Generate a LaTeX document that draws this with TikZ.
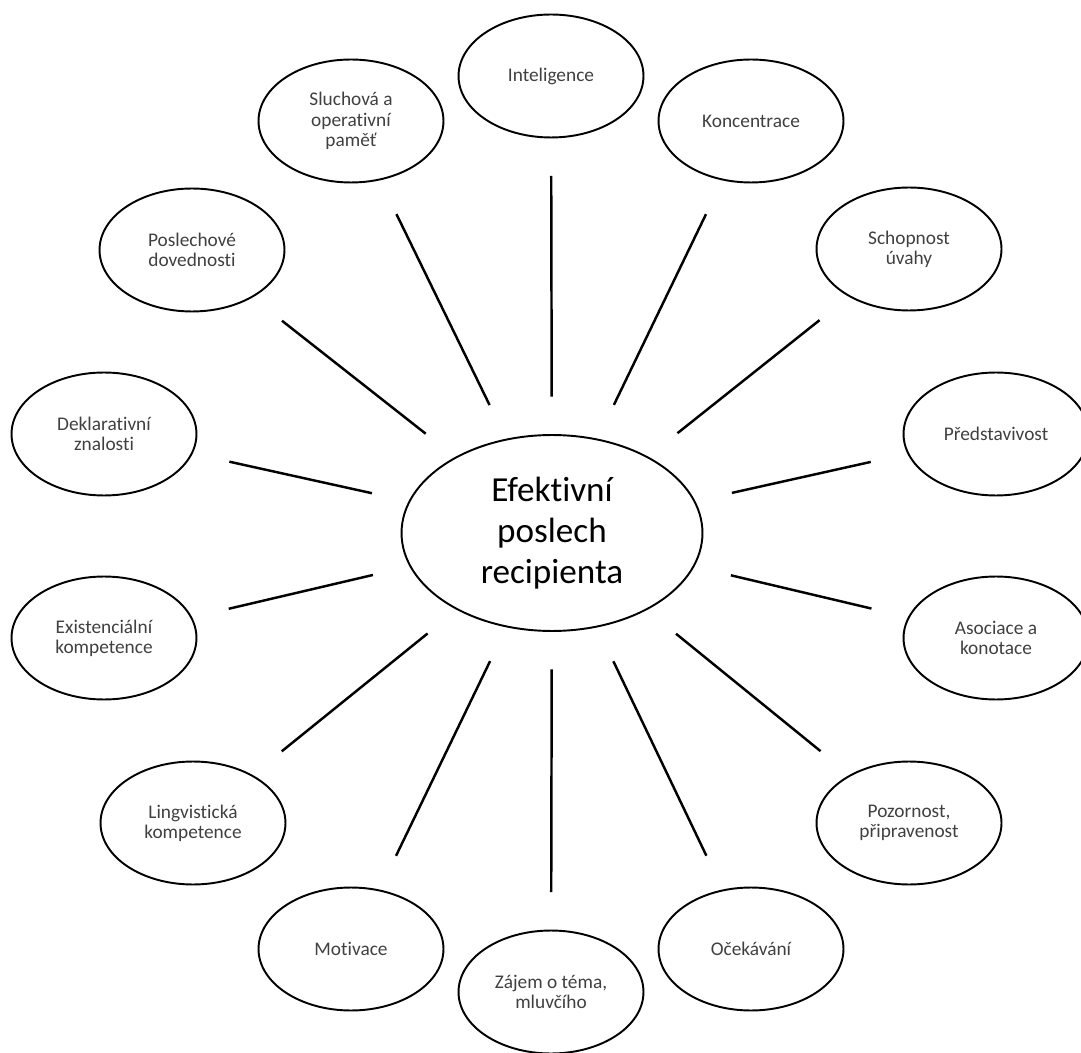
\documentclass[tikz,border=0pt]{standalone}
\usepackage{fontspec}
\setmainfont{Carlito}[Ligatures=NoCommon,Contextuals=NoAlternate]
\usepackage{tikz}
\usetikzlibrary{shapes.geometric}

\begin{document}
\begin{tikzpicture}[x=0.02cm,y=-0.02cm,
  factor/.style={ellipse,draw,line width=1.1pt,minimum width=3.7cm,minimum height=2.46cm,inner sep=1pt,align=center,text=black!75,font=\fontsize{11}{11.5}\selectfont},
  spoke/.style={line width=1.4pt,shorten <=0.75cm,shorten >=0.75cm}]
\useasboundingbox (0,0) rectangle (1081,1053);
\node[ellipse,draw,line width=1.1pt,minimum width=6.02cm,minimum height=3.92cm,align=center,font=\fontsize{20}{23.5}\selectfont] (c) at (552,533) {Efektivní\\poslech\\recipienta};
\node[factor] (int) at (551,76) {Inteligence};
\node[factor] (kon) at (751,121) {Koncentrace};
\node[factor] (sch) at (909,249) {Schopnost\\úvahy};
\node[factor] (pre) at (996,434) {Představivost};
\node[factor] (aso) at (996,638) {Asociace a\\konotace};
\node[factor] (poz) at (909,823) {Pozornost,\\připravenost};
\node[factor] (oce) at (751,949) {Očekávání};
\node[factor] (zaj) at (551,992) {Zájem o téma,\\mluvčího};
\node[factor] (mot) at (351,949) {Motivace};
\node[factor] (lin) at (193,823) {Lingvistická\\kompetence};
\node[factor] (exi) at (104,638) {Existenciální\\kompetence};
\node[factor] (dek) at (104,434) {Deklarativní\\znalosti};
\node[factor] (pos) at (192,250) {Poslechové\\dovednosti};
\node[factor] (slu) at (351,121) {Sluchová a\\operativní\\paměť};
\draw[spoke] (c) -- (int);
\draw[spoke] (c) -- (kon);
\draw[spoke] (c) -- (sch);
\draw[spoke] (c) -- (pre);
\draw[spoke] (c) -- (aso);
\draw[spoke] (c) -- (poz);
\draw[spoke] (c) -- (oce);
\draw[spoke] (c) -- (zaj);
\draw[spoke] (c) -- (mot);
\draw[spoke] (c) -- (lin);
\draw[spoke] (c) -- (exi);
\draw[spoke] (c) -- (dek);
\draw[spoke] (c) -- (pos);
\draw[spoke] (c) -- (slu);
\end{tikzpicture}
\end{document}
